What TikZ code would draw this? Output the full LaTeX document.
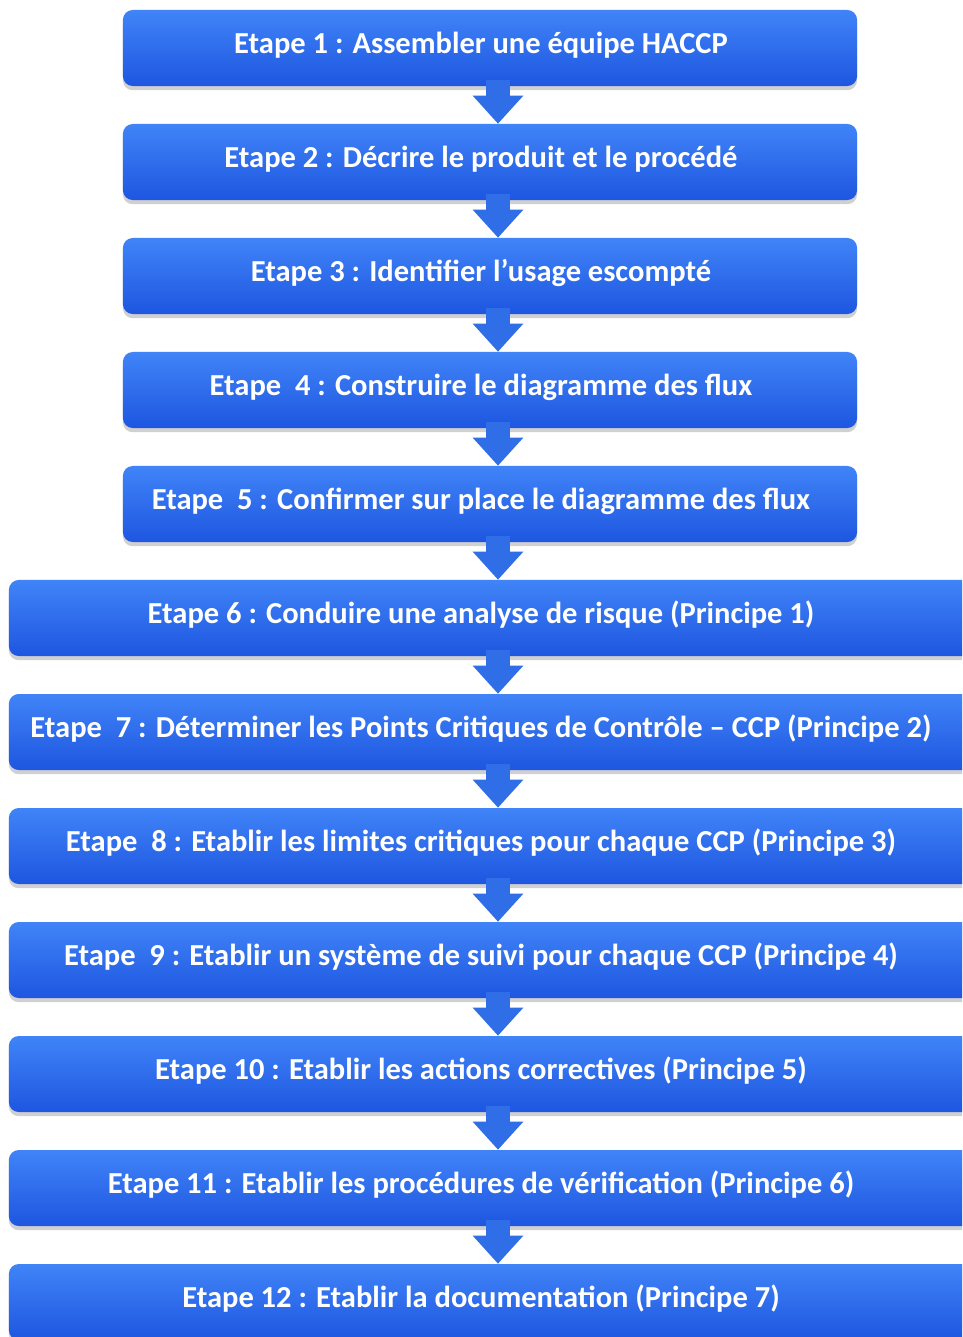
\documentclass[tikz,border=0pt]{standalone}
\usepackage{fontspec}
\setmainfont{Carlito}
\usetikzlibrary{arrows.meta,shadows}

\definecolor{boxtop}{RGB}{64,132,248}
\definecolor{boxbot}{RGB}{30,86,224}
\definecolor{flecheblue}{RGB}{48,110,232}

\tikzset{
	etape/.style={rounded corners=7pt, minimum height=1.9cm, inner sep=0pt,
		top color=boxtop, bottom color=boxbot, draw=none,
		drop shadow={shadow xshift=0pt, shadow yshift=-3pt, opacity=0.3, fill=black!60}},
	etapetext/.style={text=white, font=\fontsize{21.7}{25}\selectfont\bfseries, inner sep=0pt},
	fleche/.style={flecheblue, line width=0.6cm, -{Triangle[width=1.22cm, length=0.7cm]}}
}

\begin{document}
\begin{tikzpicture}[x=0.025cm, y=-0.025cm]
	\def\ystart{48} % Centre of the first step on the y-axis
	\def\ygap{114}  % Vertical gap between steps
	
	\clip (0,0) rectangle (962,1337);
	\fill[white] (0,0) rectangle (962,1337);
	
	\coordinate (ax) at (498,0);
	
	% Draw each step inside a box
	\foreach \i/\txt in {
		1/{Etape 1 : Assembler une équipe HACCP},
		2/{Etape 2 : Décrire le produit et le procédé},
		3/{Etape 3 : Identifier l’usage escompté},
		4/{Etape\ \ 4 : Construire le diagramme des flux},
		5/{Etape\ \ 5 : Confirmer sur place le diagramme des flux},
		6/{Etape 6 : Conduire une analyse de risque (Principe 1)},
		7/{Etape\ \ 7 : Déterminer les Points Critiques de Contrôle – CCP (Principe 2)},
		8/{Etape\ \ 8 : Etablir les limites critiques pour chaque CCP (Principe 3)},
		9/{Etape\ \ 9 : Etablir un système de suivi pour chaque CCP (Principe 4)},
		10/{Etape 10 : Etablir les actions correctives (Principe 5)},
		11/{Etape 11 : Etablir les procédures de vérification (Principe 6)},
		12/{Etape 12 : Etablir la documentation (Principe 7)}} {
		\pgfmathsetmacro{\y}{\ystart + (\i-1) * \ygap}
		\ifnum\i<6
		\node[etape, minimum width=18.35cm] (e\i) at (490,\y) {};
		\else
		\node[etape, minimum width=24.4cm] (e\i) at (497,\y) {};
		\fi
		\node[etapetext] (t\i) at (481,\y-3) {\txt};
	}
	
	% Arrows between the steps
	\foreach \i [evaluate=\i as \j using int(\i+1)] in {1,...,11} {
		\draw[fleche] (e\i.south -| ax) ++(0,-6) -- (e\j.north -| ax);
	}
\end{tikzpicture}
\end{document}
